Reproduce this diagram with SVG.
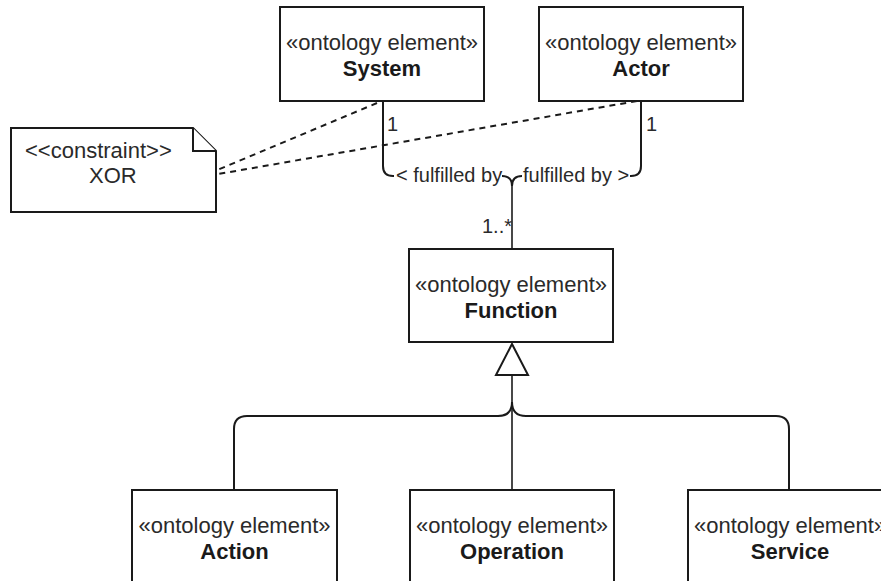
<svg xmlns="http://www.w3.org/2000/svg" width="881" height="581" viewBox="0 0 881 581">
  <style>
    .box { fill: #ffffff; stroke: #1a1a1a; stroke-width: 2; }
    .st { font-family: "Liberation Sans", Arial, sans-serif; font-size: 22px; fill: #2a2a2a; text-anchor: middle; }
    .nm { font-family: "Liberation Sans", Arial, sans-serif; font-size: 22px; font-weight: bold; fill: #1a1a1a; text-anchor: middle; }
    .lbl { font-family: "Liberation Sans", Arial, sans-serif; font-size: 20px; fill: #2a2a2a; }
    .edge { fill: none; stroke: #1a1a1a; stroke-width: 2; }
    .thin { fill: none; stroke: #1a1a1a; stroke-width: 1.6; }
    .dash { fill: none; stroke: #1a1a1a; stroke-width: 2; stroke-dasharray: 6 5; }
  </style>

  <!-- connectors -->
  <g id="connectors">
    <!-- associations System/Actor to Function -->
    <path class="edge" d="M383 101 V166 Q383 176 393 176 H502 Q512 176 512 186"/>
    <path class="edge" d="M641 101 V166 Q641 176 631 176 H522 Q512 176 512 186"/>
    <path class="thin" d="M512 186 V249"/>
    <rect x="394" y="166" width="108" height="20" fill="#ffffff"/>
    <rect x="522" y="166" width="108" height="20" fill="#ffffff"/>
    <text class="lbl" x="396" y="182">&lt; fulfilled by</text>
    <text class="lbl" x="523" y="182">fulfilled by &gt;</text>
    <text class="lbl" x="387" y="131">1</text>
    <text class="lbl" x="646" y="131">1</text>
    <text class="lbl" x="482" y="233">1..*</text>

    <!-- constraint anchors -->
    <path class="dash" d="M377 103 L215 171"/>
    <path class="dash" d="M637 101 L207 176"/>

    <!-- generalization to Function -->
    <path class="thin" d="M512 490 V376"/>
    <path class="edge" d="M234 490 V429 Q234 416 247 416 H498 Q512 416 512 402"/>
    <path class="edge" d="M789 490 V429 Q789 416 776 416 H526 Q512 416 512 402"/>
    <path fill="#ffffff" stroke="#1a1a1a" stroke-width="2" d="M512 344 L528 375 H496 Z"/>
  </g>

  <!-- constraint note -->
  <g id="xor-note">
    <path class="box" d="M11 128 H193 L216 151 V212 H11 Z"/>
    <path class="box" fill="none" d="M193 128 V151 H216"/>
    <text class="lbl" style="font-size:22px" x="25" y="158">&lt;&lt;constraint&gt;&gt;</text>
    <text class="lbl" style="font-size:22px" x="89" y="183">XOR</text>
  </g>

  <g id="system">
    <rect class="box" x="280" y="7" width="204" height="94"/>
    <text class="st" x="382" y="50">«ontology element»</text>
    <text class="nm" x="382" y="76">System</text>
  </g>

  <g id="actor">
    <rect class="box" x="539" y="7" width="204" height="94"/>
    <text class="st" x="641" y="50">«ontology element»</text>
    <text class="nm" x="641" y="76">Actor</text>
  </g>

  <g id="function">
    <rect class="box" x="409" y="249" width="204" height="93"/>
    <text class="st" x="511" y="292">«ontology element»</text>
    <text class="nm" x="511" y="318">Function</text>
  </g>

  <g id="action">
    <rect class="box" x="132" y="490" width="205" height="110"/>
    <text class="st" x="234.5" y="533">«ontology element»</text>
    <text class="nm" x="234.5" y="559">Action</text>
  </g>

  <g id="operation">
    <rect class="box" x="410" y="490" width="204" height="110"/>
    <text class="st" x="512" y="533">«ontology element»</text>
    <text class="nm" x="512" y="559">Operation</text>
  </g>

  <g id="service">
    <rect class="box" x="688" y="490" width="204" height="110"/>
    <text class="st" x="790" y="533">«ontology element»</text>
    <text class="nm" x="790" y="559">Service</text>
  </g>
</svg>
